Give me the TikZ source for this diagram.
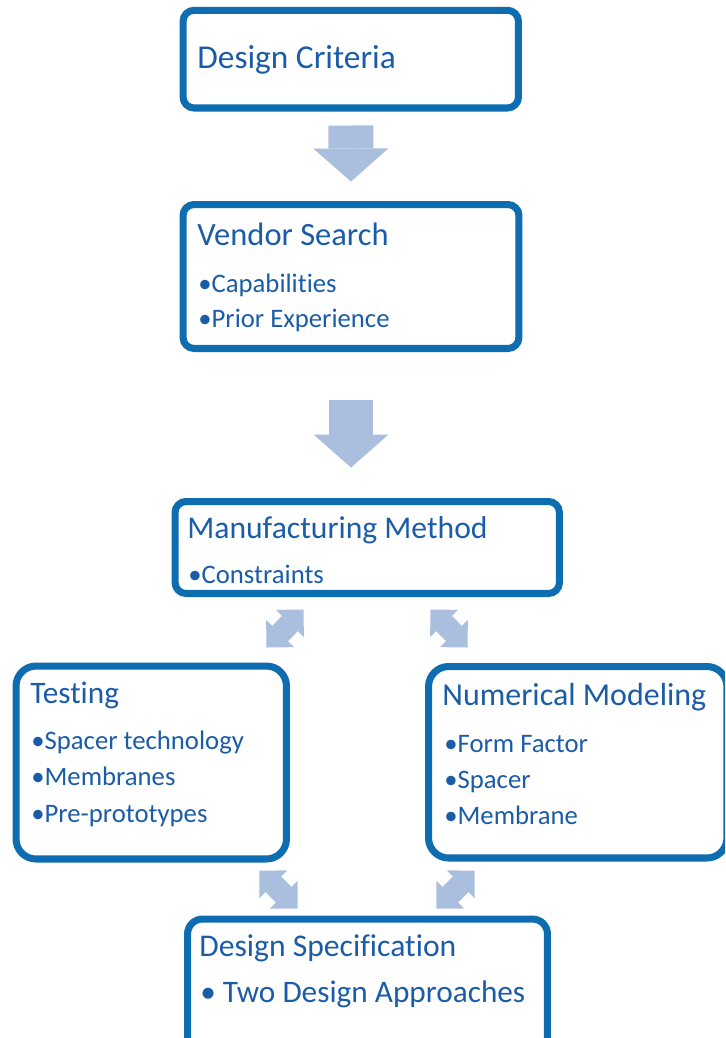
\documentclass[tikz,border=0pt]{standalone}
\usepackage{fontspec}
\setmainfont{Carlito}[Ligatures=NoCommon]
\usetikzlibrary{arrows.meta}
\usetikzlibrary{calc}

\definecolor{boxblue}{HTML}{0E6CB0}
\definecolor{txtblue}{HTML}{1B5CA8}
\definecolor{arrowblue}{HTML}{AABEDE}

\tikzset{
    box/.style={draw=boxblue, line width=4pt, rounded corners=0.22cm, inner sep=0pt},
    title/.style={text=txtblue, anchor=base west, inner sep=0pt, font=\fontsize{18.5}{22}\selectfont},
    item/.style={text=txtblue, anchor=base west, inner sep=0pt, font=\fontsize{15.2}{18}\selectfont},
    downarrow/.style={arrowblue, line width=0.9cm, -{Triangle[width=1.5cm, length=0.66cm, line width=0pt]}},
    twoway/.style={arrowblue, line width=0.44cm,
        {Triangle[width=0.78cm, length=0.39cm, line width=0pt]}-{Triangle[width=0.78cm, length=0.39cm, line width=0pt]}}
}

\begin{document}
\begin{tikzpicture}[x=0.02cm, y=-0.02cm]
\clip (0,0) rectangle (725,1038);

% boxes
\node[box, minimum width=6.71cm, minimum height=1.954cm] (crit) at (350.75,59.15) {};
\node[box, minimum width=6.72cm, minimum height=2.88cm] (vendor) at (351,276.5) {};
\node[box, minimum width=7.69cm, minimum height=1.84cm] (mfg) at (367.25,547.5) {};
\node[box, rounded corners=0.4cm, minimum width=5.41cm, minimum height=3.86cm] (test) at (151.25,762.5) {};
\node[box, rounded corners=0.4cm, minimum width=5.97cm, minimum height=3.83cm] (num) at (577.75,762.25) {};
\node[box, rounded corners=0.3cm, minimum width=7.2cm, minimum height=3.02cm] (spec) at (367.5,994.5) {};

% box texts
\node[title, font=\fontsize{19}{22}\selectfont] (crit-t) at (197,68.3) {Design Criteria};
\node[title] (vendor-t) at (197,245) {Vendor Search};
\node[item] (vendor-1) at (198,292) {•Capabilities};
\node[item] (vendor-2) at (198,327) {•Prior Experience};
\node[title, font=\fontsize{18}{22}\selectfont] (mfg-t) at (187,538) {Manufacturing Method};
\node[item] (mfg-1) at (188,583) {•Constraints};
\node[title, font=\fontsize{17.8}{22}\selectfont] (test-t) at (30,703) {Testing};
\node[item] (test-1) at (31,749) {•Spacer technology};
\node[item] (test-2) at (31,785) {•Membranes};
\node[item] (test-3) at (31,822) {•Pre-prototypes};
\node[title, font=\fontsize{18.2}{22}\selectfont] (num-t) at (442,705) {Numerical Modeling};
\node[item] (num-1) at (444,752) {•Form Factor};
\node[item] (num-2) at (444,788) {•Spacer};
\node[item] (num-3) at (444,824) {•Membrane};
\node[title, font=\fontsize{18}{22}\selectfont] (spec-t) at (199,956) {Design Specification};
\node[item, font=\fontsize{17.8}{22}\selectfont] (spec-1) at (200,1002) {• Two Design Approaches};

% block arrows
\draw[downarrow, shorten <=0.28cm, shorten >=0.39cm] (crit.south) -- (vendor.north);
\draw[downarrow, shorten <=0.97cm, shorten >=0.61cm] (vendor.south) -- (vendor.south |- mfg.north);
\draw[twoway] ($(mfg.south west)+(132,12.5)$) -- ($(test.north east)+(-23.5,-15)$);
\draw[twoway] ($(mfg.south east)+(-132.5,12.5)$) -- ($(num.north west)+(42.5,-15.5)$);
\draw[twoway] ($(test.south east)+(-30.5,8)$) -- ($(spec.north west)+(113.5,-7)$);
\draw[twoway] ($(num.south west)+(49.5,9)$) -- ($(spec.north east)+(-114.5,-7)$);
\end{tikzpicture}
\end{document}
